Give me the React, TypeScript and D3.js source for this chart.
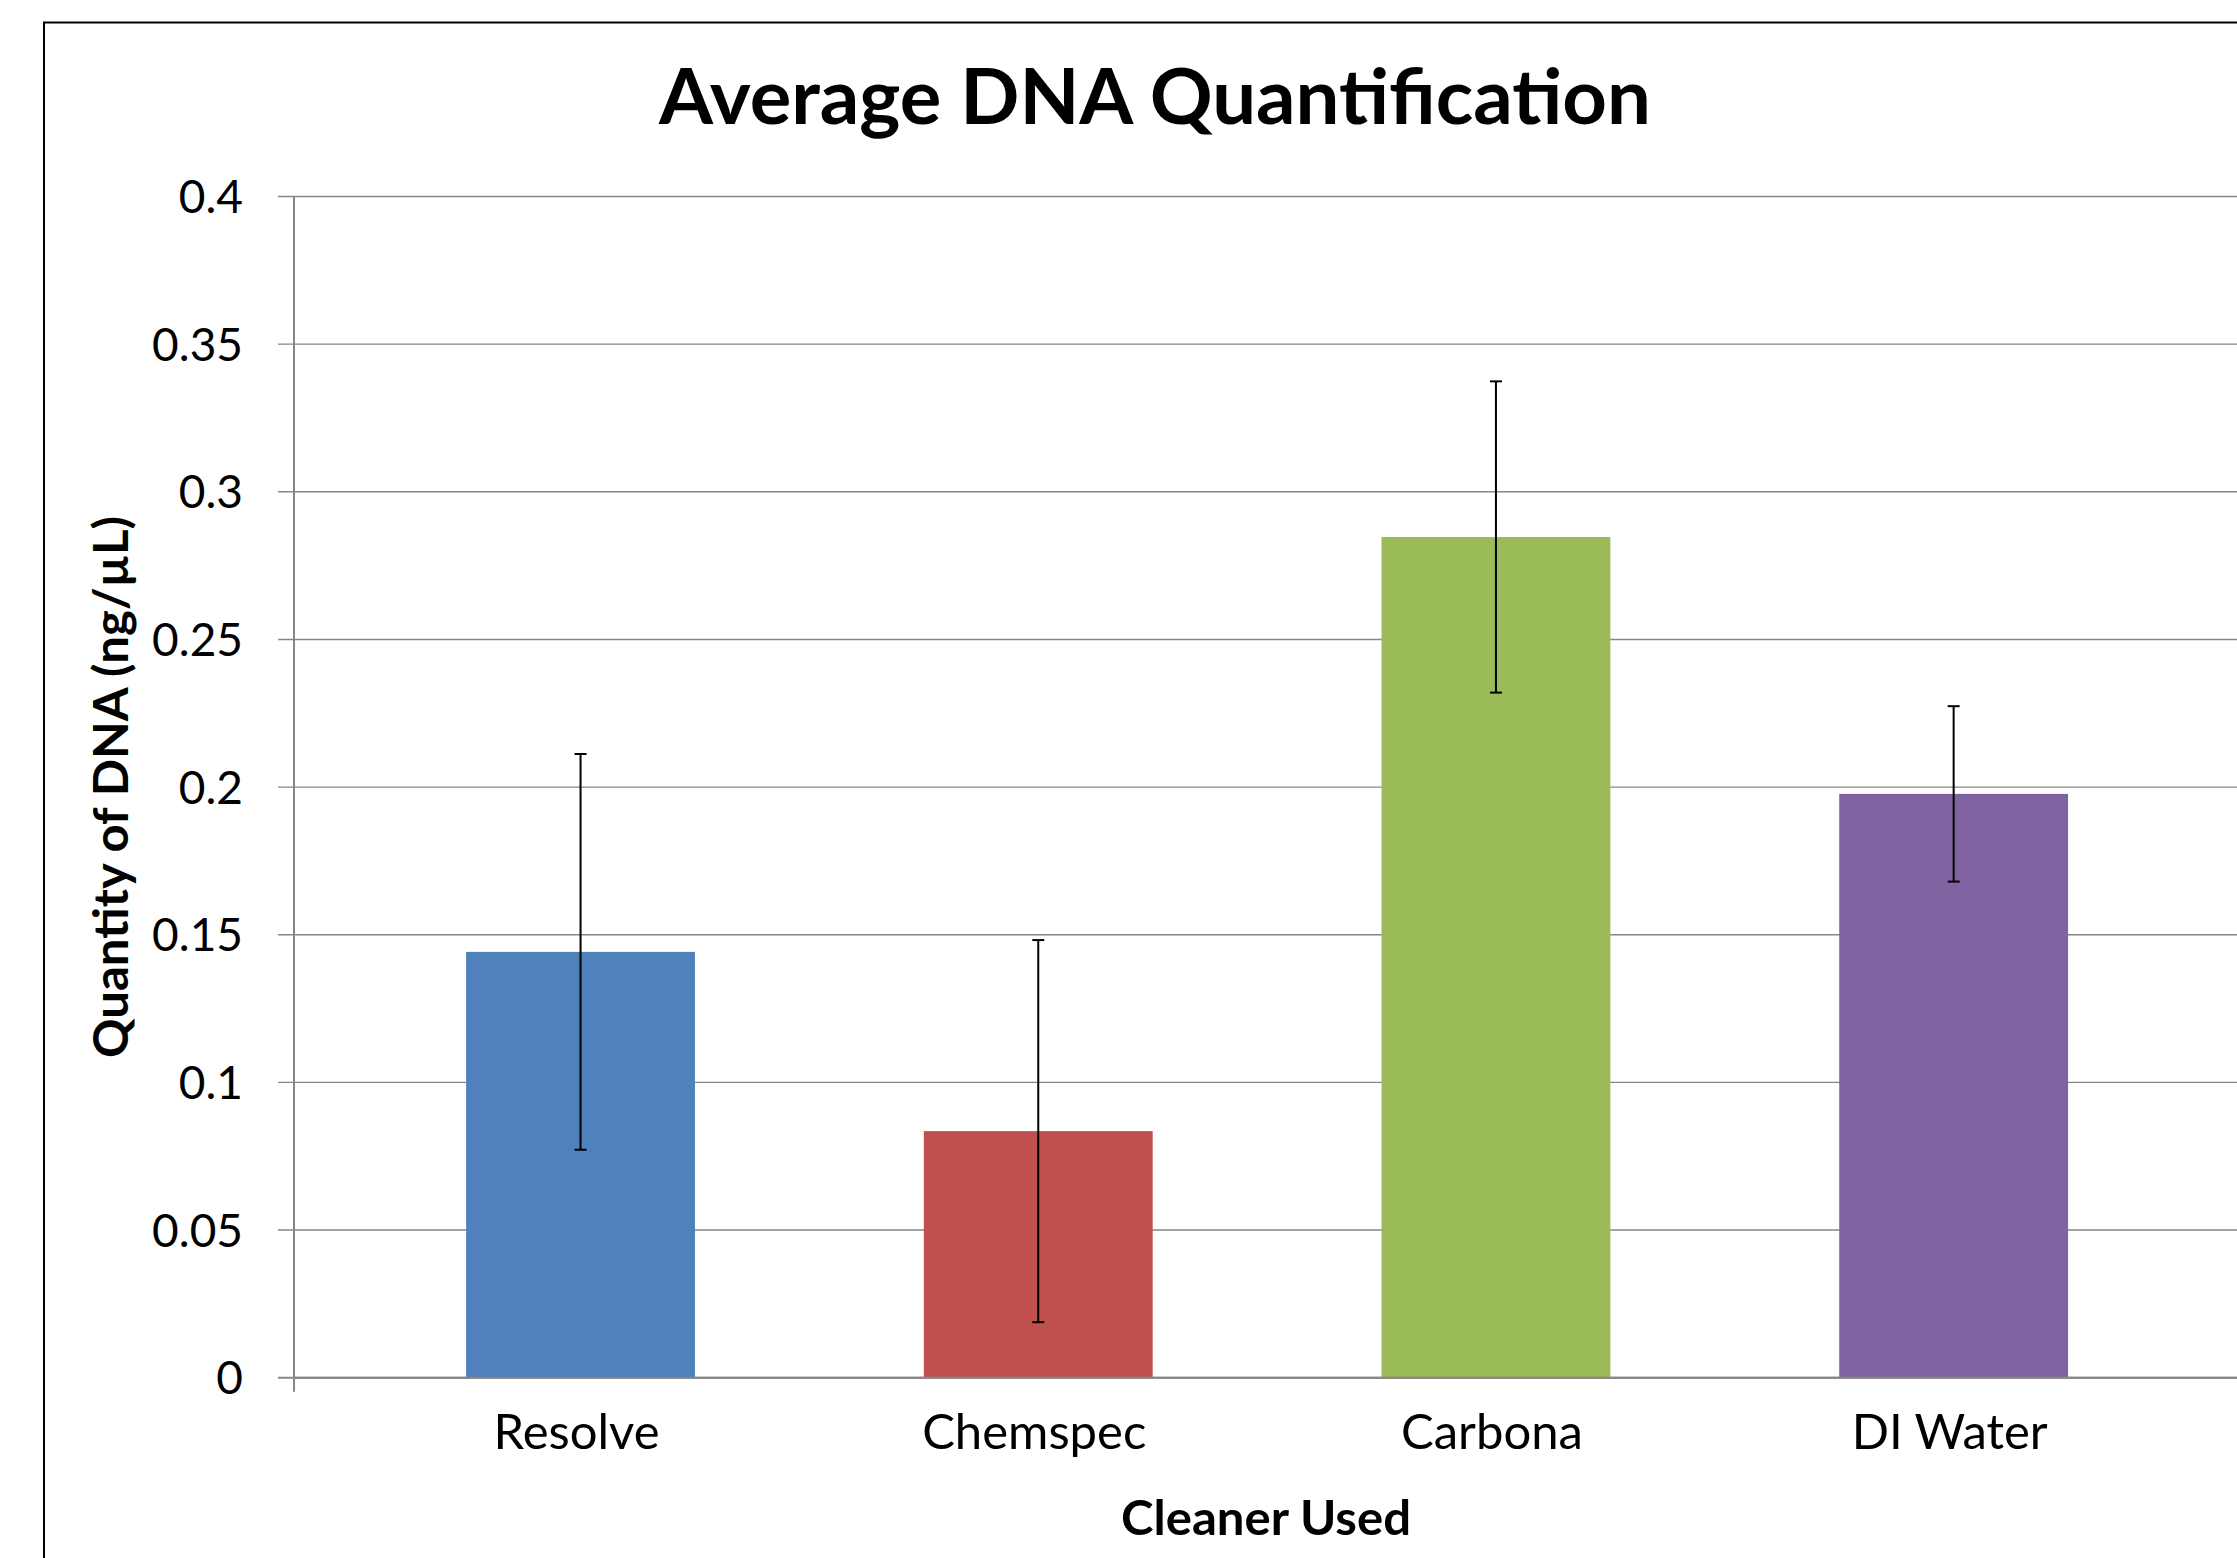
import React from "react";
import * as d3 from "d3";

const categories = ["Resolve", "Chemspec", "Carbona", "DI Water"];
const means = [0.1442, 0.0835, 0.2847, 0.1977];
const errors = [0.067, 0.0647, 0.0527, 0.0297];
const colors = ["#4F81BD", "#C0504D", "#9BBB59", "#8064A2"];
const yTicks = [0, 0.05, 0.1, 0.15, 0.2, 0.25, 0.3, 0.35, 0.4];

const W = 2237;
const H = 1558;
const axisX = 294;
const yTop = 196.5;
const yBottom = 1377.7;
const FONT = "Lato, 'Open Sans', sans-serif";

export default function App() {
  const y = d3.scaleLinear().domain([0, 0.4]).range([yBottom, yTop]);
  const x = d3
    .scaleBand<string>()
    .domain(categories)
    .range([351.7, 351.7 + 4 * 457.7])
    .paddingInner(0.5)
    .paddingOuter(0.25);
  const fmt = (v: number) => String(+v.toFixed(2));
  const cap = 6;

  return (
    <svg
      width={W}
      height={H}
      viewBox={`0 0 ${W} ${H}`}
      style={{ position: "absolute", left: 0, top: 0, background: "#fff" }}
    >
      <rect x={0} y={0} width={W} height={H} fill="#fff" />
      {/* chart border */}
      <rect
        x={44}
        y={22.5}
        width={W + 20}
        height={H + 20}
        fill="none"
        stroke="#000"
        strokeWidth={2}
      />
      {/* title */}
      <text
        x={1155}
        y={124}
        textAnchor="middle"
        fontFamily={FONT}
        fontWeight="bold"
        fontSize={76}
        textLength={992}
        lengthAdjust="spacingAndGlyphs"
        fill="#000"
      >
        Average DNA Quantification
      </text>
      {/* gridlines & ticks */}
      {yTicks.map((t) => (
        <g key={t}>
          <line
            x1={278}
            x2={W}
            y1={y(t)}
            y2={y(t)}
            stroke="#868686"
            strokeWidth={t === 0 ? 2 : 1.4}
          />
          <text
            x={243}
            y={y(t)}
            dy="0.36em"
            textAnchor="end"
            fontFamily={FONT}
            fontSize={46}
            fill="#000"
          >
            {fmt(t)}
          </text>
        </g>
      ))}
      {/* y axis line */}
      <line
        x1={axisX}
        x2={axisX}
        y1={y(0.4)}
        y2={yBottom + 14}
        stroke="#868686"
        strokeWidth={2}
      />
      {/* bars */}
      {categories.map((c, i) => (
        <rect
          key={c}
          x={x(c)!}
          y={y(means[i])}
          width={x.bandwidth()}
          height={yBottom - y(means[i])}
          fill={colors[i]}
        />
      ))}
      {/* x axis line over bars */}
      <line x1={axisX} x2={W} y1={yBottom} y2={yBottom} stroke="#868686" strokeWidth={2} />
      {/* error bars */}
      {categories.map((c, i) => {
        const cx = x(c)! + x.bandwidth() / 2;
        const hi = y(means[i] + errors[i]);
        const lo = y(means[i] - errors[i]);
        return (
          <g key={c} stroke="#000" strokeWidth={2}>
            <line x1={cx} x2={cx} y1={hi} y2={lo} />
            <line x1={cx - cap} x2={cx + cap} y1={hi} y2={hi} />
            <line x1={cx - cap} x2={cx + cap} y1={lo} y2={lo} />
          </g>
        );
      })}
      {/* category labels */}
      {categories.map((c) => (
        <text
          key={c}
          x={x(c)! + x.bandwidth() / 2 - 4}
          y={1449}
          textAnchor="middle"
          fontFamily={FONT}
          fontSize={49}
          fill="#000"
        >
          {c}
        </text>
      ))}
      {/* axis titles */}
      <text
        x={1266}
        y={1535}
        textAnchor="middle"
        fontFamily={FONT}
        fontWeight="bold"
        fontSize={47}
        textLength={290}
        lengthAdjust="spacingAndGlyphs"
        fill="#000"
      >
        Cleaner Used
      </text>
      <text
        transform={`translate(128, 787) rotate(-90)`}
        textAnchor="middle"
        fontFamily={FONT}
        fontWeight="bold"
        fontSize={47}
        textLength={542}
        lengthAdjust="spacingAndGlyphs"
        fill="#000"
      >
        Quantity of DNA (ng/µL)
      </text>
    </svg>
  );
}
